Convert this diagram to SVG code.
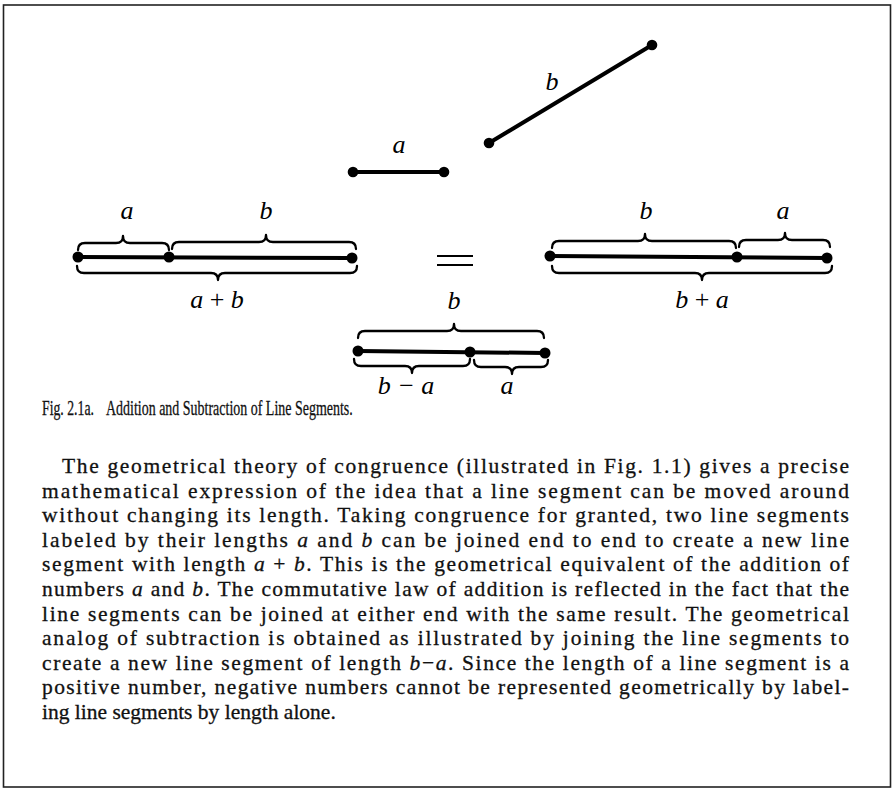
<svg xmlns="http://www.w3.org/2000/svg" width="894" height="791" viewBox="0 0 894 791">
<style>
.seg{stroke:#000;stroke-width:4;stroke-linecap:round;fill:none}
.br{stroke:#000;stroke-width:2.3;fill:none;stroke-linejoin:round;stroke-linecap:round}
.dot{fill:#000}
.lab{font-family:"Liberation Serif","Times New Roman",serif;font-style:italic;font-size:26px;fill:#000;text-anchor:middle}
.rm{font-style:normal}
.txt{font-family:"Liberation Serif","Times New Roman",serif;font-size:21.5px;fill:#111;stroke:#111;stroke-width:0.3}
</style>
<rect x="0" y="0" width="894" height="791" fill="#fff"/>
<rect x="3.5" y="5" width="887" height="782" fill="none" stroke="#222" stroke-width="1.6"/>

<g id="seg-b">
  <line class="seg" x1="489" y1="143" x2="652" y2="45"/>
  <circle class="dot" cx="489" cy="143" r="5.3"/>
  <circle class="dot" cx="652" cy="45" r="5.3"/>
  <text class="lab" x="552" y="90">b</text>
</g>

<g id="seg-a">
  <line class="seg" x1="353" y1="172" x2="444" y2="172"/>
  <circle class="dot" cx="353" cy="172" r="5.3"/>
  <circle class="dot" cx="444" cy="172" r="5.3"/>
  <text class="lab" x="399" y="153">a</text>
</g>

<g id="sum-ab">
  <line class="seg" x1="78" y1="257" x2="352" y2="258"/>
  <circle class="dot" cx="78" cy="257" r="5.5"/>
  <circle class="dot" cx="169" cy="257" r="5.5"/>
  <circle class="dot" cx="352" cy="258" r="5.5"/>
  <path class="br" d="M78,250 Q78,243 85,243 L116,243 Q123,243 123,236 Q123,243 130,243 L162,243 Q169,243 169,250"/>
  <path class="br" d="M172,249 Q172,242 179,242 L259,242 Q266,242 266,235 Q266,242 273,242 L349,242 Q356,242 356,249"/>
  <path class="br" d="M77,266 Q77,273 84,273 L211,273 Q218,273 218,280 Q218,273 225,273 L350,273 Q357,273 357,266"/>
  <text class="lab" x="127" y="219">a</text>
  <text class="lab" x="266" y="219">b</text>
  <text class="lab" x="217" y="308">a <tspan class="rm">+</tspan> b</text>
</g>

<g id="equals">
  <line x1="437" y1="256" x2="473" y2="256" stroke="#000" stroke-width="2.2"/>
  <line x1="437" y1="265" x2="473" y2="265" stroke="#000" stroke-width="2.2"/>
</g>

<g id="sum-ba">
  <line class="seg" x1="550" y1="256" x2="827" y2="258"/>
  <circle class="dot" cx="550" cy="256" r="5.5"/>
  <circle class="dot" cx="737" cy="257" r="5.5"/>
  <circle class="dot" cx="827" cy="258" r="5.5"/>
  <path class="br" d="M552,248 Q552,241 559,241 L638,241 Q645,241 645,234 Q645,241 652,241 L729,241 Q736,241 736,248"/>
  <path class="br" d="M739,247 Q739,240 746,240 L778,240 Q785,240 785,233 Q785,240 792,240 L823,240 Q830,240 830,247"/>
  <path class="br" d="M552,266 Q552,273 559,273 L695,273 Q702,273 702,280 Q702,273 709,273 L825,273 Q832,273 832,266"/>
  <text class="lab" x="646" y="219">b</text>
  <text class="lab" x="783" y="219">a</text>
  <text class="lab" x="702" y="308">b <tspan class="rm">+</tspan> a</text>
</g>

<g id="diff">
  <line class="seg" x1="358" y1="351" x2="545" y2="353"/>
  <circle class="dot" cx="358" cy="351" r="5.5"/>
  <circle class="dot" cx="470" cy="352" r="5.5"/>
  <circle class="dot" cx="545" cy="353" r="5.5"/>
  <path class="br" d="M358,338 Q358,331 365,331 L447,331 Q454,331 454,324 Q454,331 461,331 L537,331 Q544,331 544,338"/>
  <path class="br" d="M354,359 Q354,366 361,366 L405,366 Q412,366 412,373 Q412,366 419,366 L463,366 Q470,366 470,359"/>
  <path class="br" d="M474,360 Q474,367 481,367 L505,367 Q512,367 512,374 Q512,367 519,367 L541,367 Q548,367 548,360"/>
  <text class="lab" x="454" y="309">b</text>
  <text class="lab" x="406" y="394">b − a</text>
  <text class="lab" x="507" y="394">a</text>
</g>

<g id="caption">
  <text class="txt" font-size="23" transform="translate(42,415) scale(0.64,1)" x="0" y="0">Fig. 2.1a.</text>
  <text class="txt" font-size="23" transform="translate(106,415) scale(0.65,1)" x="0" y="0">Addition and Subtraction of Line Segments.</text>
</g>

<g id="paragraph">
  <text class="txt" x="62" y="473" textLength="787" lengthAdjust="spacing">The geometrical theory of congruence (illustrated in Fig. 1.1) gives a precise</text>
  <text class="txt" x="42" y="497.6" textLength="807" lengthAdjust="spacing">mathematical expression of the idea that a line segment can be moved around</text>
  <text class="txt" x="42" y="522.2" textLength="807" lengthAdjust="spacing">without changing its length. Taking congruence for granted, two line segments</text>
  <text class="txt" x="42" y="546.8" textLength="807" lengthAdjust="spacing">labeled by their lengths <tspan font-style="italic">a</tspan> and <tspan font-style="italic">b</tspan> can be joined end to end to create a new line</text>
  <text class="txt" x="42" y="571.4" textLength="807" lengthAdjust="spacing">segment with length <tspan font-style="italic">a</tspan> + <tspan font-style="italic">b</tspan>. This is the geometrical equivalent of the addition of</text>
  <text class="txt" x="42" y="596" textLength="807" lengthAdjust="spacing">numbers <tspan font-style="italic">a</tspan> and <tspan font-style="italic">b</tspan>. The commutative law of addition is reflected in the fact that the</text>
  <text class="txt" x="42" y="620.6" textLength="807" lengthAdjust="spacing">line segments can be joined at either end with the same result. The geometrical</text>
  <text class="txt" x="42" y="645.2" textLength="807" lengthAdjust="spacing">analog of subtraction is obtained as illustrated by joining the line segments to</text>
  <text class="txt" x="42" y="669.8" textLength="807" lengthAdjust="spacing">create a new line segment of length <tspan font-style="italic">b</tspan>−<tspan font-style="italic">a</tspan>. Since the length of a line segment is a</text>
  <text class="txt" x="42" y="694.4" textLength="807" lengthAdjust="spacing">positive number, negative numbers cannot be represented geometrically by label-</text>
  <text class="txt" x="42" y="719">ing line segments by length alone.</text>
</g>
</svg>
